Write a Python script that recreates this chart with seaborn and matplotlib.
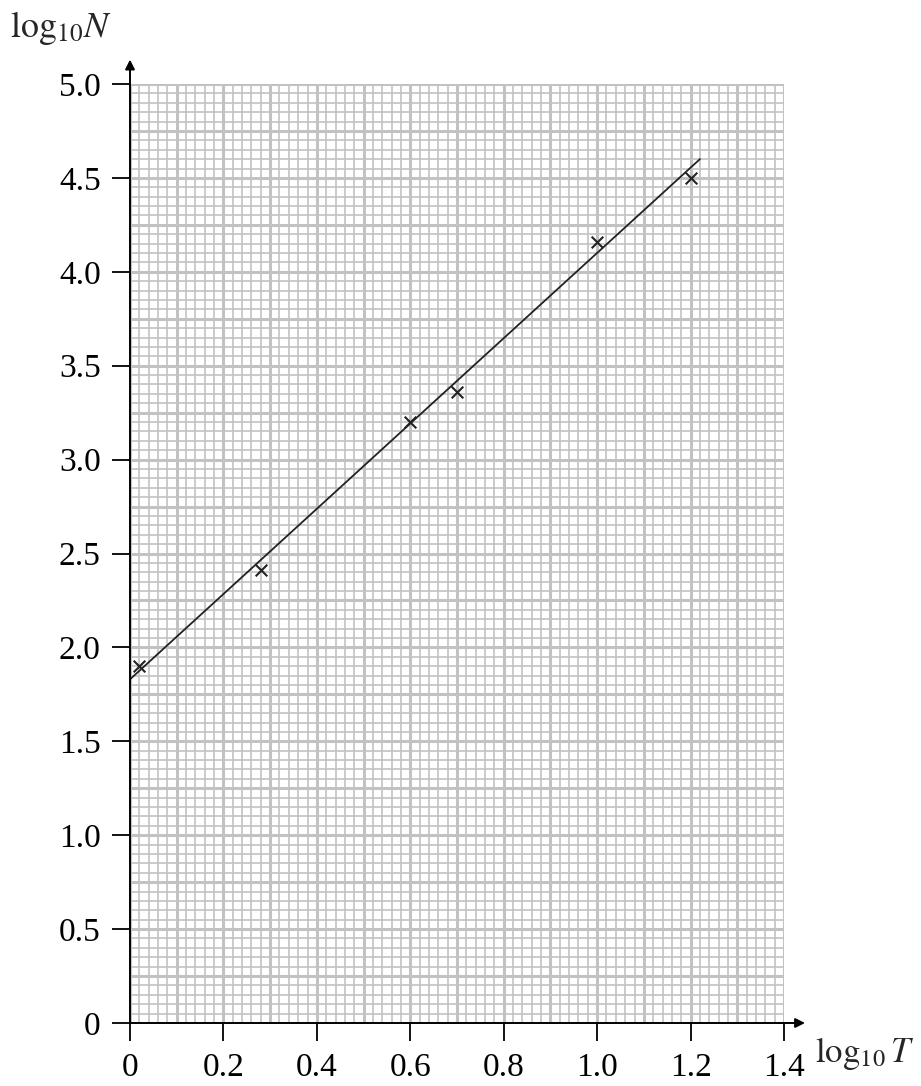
import numpy as np
import matplotlib
matplotlib.use("Agg")
import matplotlib.pyplot as plt
import seaborn as sns

# measured points (log10 T, log10 N)
log_T = [0.02, 0.28, 0.60, 0.70, 1.00, 1.20]
log_N = [1.90, 2.41, 3.20, 3.36, 4.16, 4.50]

# best-fit line end points
fit_T = [0.0, 1.22]
fit_N = [1.83, 4.60]

x_ticks = [0, 0.2, 0.4, 0.6, 0.8, 1.0, 1.2, 1.4]
x_labels = ["0", "0.2", "0.4", "0.6", "0.8", "1.0", "1.2", "1.4"]
y_ticks = [0, 0.5, 1.0, 1.5, 2.0, 2.5, 3.0, 3.5, 4.0, 4.5, 5.0]
y_labels = ["0", "0.5", "1.0", "1.5", "2.0", "2.5", "3.0", "3.5", "4.0", "4.5", "5.0"]

sns.set_style("white")
plt.rcParams["font.family"] = ["Liberation Serif", "DejaVu Serif"]
plt.rcParams["mathtext.fontset"] = "stix"

fig = plt.figure(figsize=(9.21, 10.86), dpi=100)
ax = fig.add_axes([130 / 921, 63 / 1086, 654 / 921, 939 / 1086])

# graph paper
grid_col = "#c2c2c2"
for v in np.arange(0, 1.4001, 0.02):
    major = abs(v / 0.1 - round(v / 0.1)) < 1e-6
    ax.axvline(v, color=grid_col, lw=2.2 if major else 1.2, zorder=0)
for v in np.arange(0, 5.0001, 0.05):
    major = abs(v / 0.25 - round(v / 0.25)) < 1e-6
    ax.axhline(v, color=grid_col, lw=2.2 if major else 1.2, zorder=0)

sns.lineplot(x=fit_T, y=fit_N, ax=ax, color="#222222", lw=1.3, zorder=3)
sns.scatterplot(x=log_T, y=log_N, ax=ax, marker="x", s=70, color="#222222",
                linewidth=1.5, zorder=4)

ax.set_xlim(0, 1.4)
ax.set_ylim(0, 5.0)

for side in ["top", "right"]:
    ax.spines[side].set_visible(False)
for side in ["left", "bottom"]:
    ax.spines[side].set_color("black")
    ax.spines[side].set_linewidth(1.4)
    ax.spines[side].set_zorder(5)

ax.set_xticks(x_ticks)
ax.set_xticklabels(x_labels)
ax.set_yticks(y_ticks)
ax.set_yticklabels(y_labels)
ax.tick_params(axis="both", direction="out", length=13, width=1.3,
               colors="black", labelsize=24, bottom=True, left=True)
ax.tick_params(axis="x", pad=8)
ax.tick_params(axis="y", pad=8)

# arrow heads on the axes
ax.annotate("", xy=(0, 5.13), xytext=(0, 4.99), annotation_clip=False,
            arrowprops=dict(arrowstyle="-|>", color="black", lw=1.4,
                            mutation_scale=14, shrinkA=0, shrinkB=0))
ax.annotate("", xy=(1.445, 0), xytext=(1.39, 0), annotation_clip=False,
            arrowprops=dict(arrowstyle="-|>", color="black", lw=1.4,
                            mutation_scale=14, shrinkA=0, shrinkB=0))

fig.text(10 / 921, 1 - 28 / 1086, r"$\log_{10}\!N$", fontsize=26,
         ha="left", va="center")
fig.text(815 / 921, 1 - 1053 / 1086, r"$\log_{10}T$", fontsize=25,
         ha="left", va="center")

fig.savefig("out.png", dpi=100)
